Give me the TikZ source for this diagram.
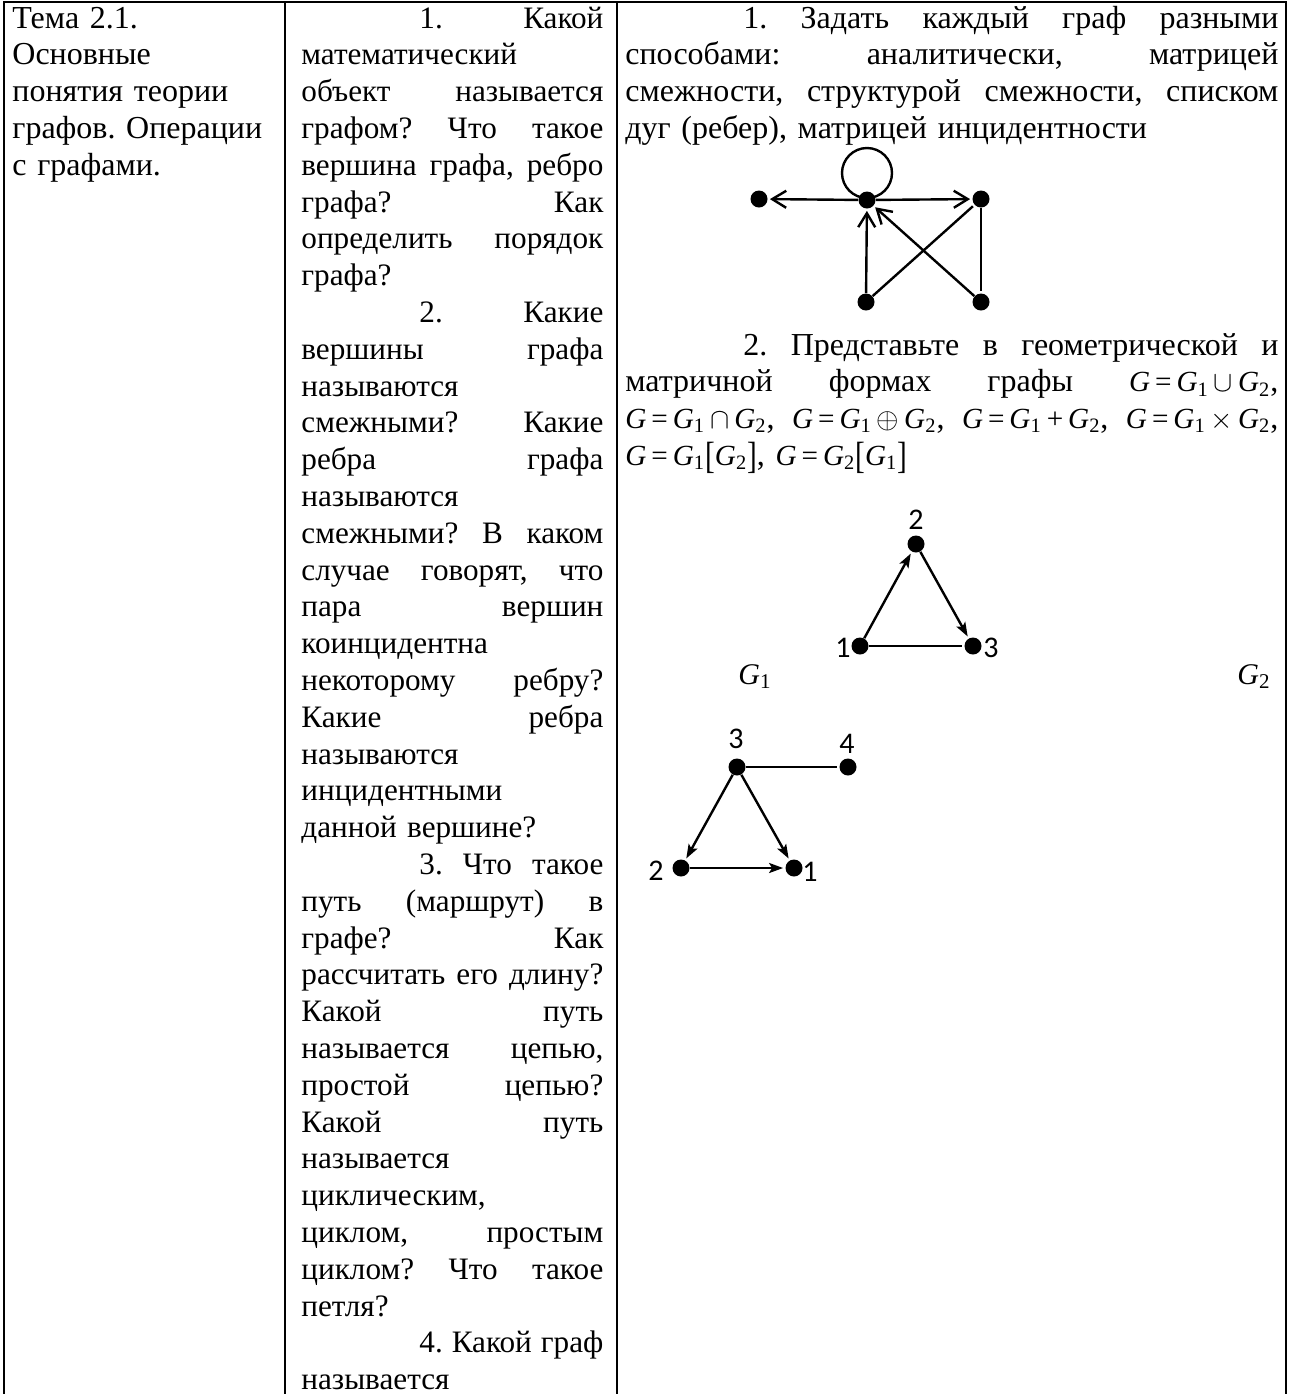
\documentclass[tikz,border=0pt]{standalone}
\usepackage{fontspec}
\usepackage{graphicx}
\setmainfont{Liberation Serif}
\newfontfamily\digitfont{Carlito}
\usetikzlibrary{arrows.meta}
\frenchspacing

\newlength{\colw}
\newcommand{\jline}[1]{\makebox[\colw][s]{\spaceskip=0.25em plus 20em\relax #1}}
\newcommand{\iline}[1]{\makebox[\colw][s]{\spaceskip=0.25em plus 20em\relax\hspace*{59pt}#1}}
\newcommand{\gsub}[1]{\textit{G}\textsubscript{#1}}
\newcommand{\fml}[1]{\mbox{\fontsize{14.6}{16}\selectfont #1}}
\newcommand{\rel}[1]{\kern0.17em#1\kern0.17em}
\newcommand{\tallbr}[1]{\raisebox{-0.12em}{\scalebox{1}[1.3]{#1}}}

\begin{document}
\begin{tikzpicture}[x=0.5pt, y=0.5pt, shorten >=1pt,
    cell_style/.style={anchor=base west, inner sep=0pt, align=left, text width=#1,
      execute at begin node={\setlength{\colw}{#1}},
      font=\fontsize{16}{18.4}\selectfont},
    vertex_style/.style={circle, fill=black, inner sep=0pt, minimum size=8.5pt},
    label_style/.style={inner sep=0pt, font=\digitfont\fontsize{15}{15}\selectfont},
    name_style/.style={inner sep=0pt, font=\fontsize{15}{15}\selectfont},
    edge_style/.style={draw=black, line width=1.2pt},
    open_arc/.style={edge_style, -{Straight Barb[length=7pt,width=8.5pt]}},
    solid_arc/.style={edge_style, -{Stealth[length=7pt,width=5pt,inset=1.5pt]}}]
  \useasboundingbox (0,0) rectangle (1292,-1394);
  % table frame
  \draw[line width=1pt] (4,-1400) |- (1286,-2) -- (1286,-1400);
  \draw[line width=1pt] (285,-2) -- (285,-1400);
  \draw[line width=1pt] (617,-2) -- (617,-1400);

  \node[cell_style=132pt] (theme) at (12,-28)
    {Тема 2.1.\\ Основные\\ понятия теории\\ графов. Операции\\ с графами.};

  \node[cell_style=151pt, font=\fontsize{15.6}{18.4}\selectfont] (quest) at (301,-28) {%
    \iline{1. Какой}\\
    математический\\
    \jline{объект называется}\\
    \jline{графом? Что такое}\\
    \jline{вершина графа, ребро}\\
    \jline{графа? Как}\\
    \jline{определить порядок}\\
    графа?\\
    \iline{2. Какие}\\
    \jline{вершины графа}\\
    называются\\
    \jline{смежными? Какие}\\
    \jline{ребра графа}\\
    называются\\
    \jline{смежными? В каком}\\
    \jline{случае говорят, что}\\
    \jline{пара вершин}\\
    коинцидентна\\
    \jline{некоторому ребру?}\\
    \jline{Какие ребра}\\
    называются\\
    инцидентными\\
    данной вершине?\\
    \iline{3. Что такое}\\
    \jline{путь (маршрут) в}\\
    \jline{графе? Как}\\
    \jline{рассчитать его длину?}\\
    \jline{Какой путь}\\
    \jline{называется цепью,}\\
    \jline{простой цепью?}\\
    \jline{Какой путь}\\
    называется\\
    циклическим,\\
    \jline{циклом, простым}\\
    \jline{циклом? Что такое}\\
    петля?\\
    \iline{4. Какой граф}\\
    называется};

  \node[cell_style=326.5pt] (task1) at (625,-28) {%
    \iline{1. Задать каждый граф разными}\\
    \jline{способами: аналитически, матрицей}\\
    \jline{смежности, структурой смежности, списком}\\
    дуг (ребер), матрицей инцидентности};

  \node[cell_style=326.5pt] (task2) at (625,-355) {%
    \iline{2. Представьте в геометрической и}\\
    \jline{матричной формах графы \fml{\textit{G}\rel{=}\gsub{1}\rel{$\cup$}\gsub{2}},}\\
    \jline{\fml{\textit{G}\rel{=}\gsub{1}\rel{$\cap$}\gsub{2}}, \fml{\textit{G}\rel{=}\gsub{1}\rel{$\oplus$}\gsub{2}}, \fml{\textit{G}\rel{=}\gsub{1}\rel{+}\gsub{2}}, \fml{\textit{G}\rel{=}\gsub{1}\rel{$\times$}\gsub{2}},}\\
    \fml{\textit{G}\rel{=}\gsub{1}\tallbr{[}\gsub{2}\tallbr{]}}, \fml{\textit{G}\rel{=}\gsub{2}\tallbr{[}\gsub{1}\tallbr{]}}};

  % graph of task 1
  \node[vertex_style] (p1) at (759,-199) {};
  \node[vertex_style] (p2) at (867,-200) {};
  \node[vertex_style] (p3) at (981,-199) {};
  \node[vertex_style] (p4) at (866,-302) {};
  \node[vertex_style] (p5) at (981,-302) {};
  \draw[edge_style] ([yshift=13.5pt]p2.center) circle[radius=12.5pt];
  \draw[open_arc] (p2) edge (p1);
  \draw[open_arc] (p2) edge (p3);
  \draw[open_arc] (p4) edge (p2);
  \draw[open_arc] (p5) edge (p2);
  \draw[edge_style] (p4) edge (p3);
  \draw[edge_style] (p3) edge (p5);

  % G1
  \node[vertex_style] (a1) at (860,-646) {};
  \node[vertex_style] (a2) at (916,-544) {};
  \node[vertex_style] (a3) at (973,-646) {};
  \node[label_style] (t1) at (843,-648) {1};
  \node[label_style] (t2) at (916,-520) {2};
  \node[label_style] (t3) at (991,-648) {3};
  \draw[solid_arc] (a1) edge (a2);
  \draw[solid_arc] (a2) edge (a3);
  \draw[edge_style] (a1) edge (a3);

  % G2
  \node[vertex_style] (b1) at (794,-868) {};
  \node[vertex_style] (b2) at (681,-868) {};
  \node[vertex_style] (b3) at (737,-767) {};
  \node[vertex_style] (b4) at (848,-767) {};
  \node[label_style] (s1) at (810,-872) {1};
  \node[label_style] (s2) at (656,-871) {2};
  \node[label_style] (s3) at (736,-739) {3};
  \node[label_style] (s4) at (847,-744) {4};
  \draw[solid_arc] (b3) edge (b2);
  \draw[solid_arc] (b3) edge (b1);
  \draw[solid_arc] (b2) edge (b1);
  \draw[edge_style] (b3) edge (b4);

  \node[name_style, anchor=base west] (g1) at (738,-684) {\gsub{1}};
  \node[name_style, anchor=base east] (g2) at (1271,-684) {\gsub{2}};
\end{tikzpicture}
\end{document}
